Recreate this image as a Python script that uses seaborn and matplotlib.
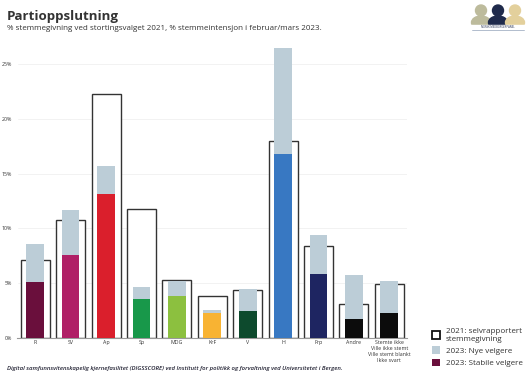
import matplotlib
matplotlib.use("Agg")
import matplotlib.pyplot as plt
import seaborn as sns
import pandas as pd
import numpy as np
from matplotlib.patches import Patch, Circle, Ellipse, Rectangle

categories = ["R", "SV", "Ap", "Sp", "MDG", "KrF", "V", "H", "Frp", "Andre",
              "Stemte ikke\nVille ikke stemt\nVille stemt blankt\nIkke svart"]
vote_2021 = [7.1, 10.8, 22.3, 11.8, 5.3, 3.85, 4.35, 18.0, 8.4, 3.05, 4.9]
total_2023 = [8.6, 11.7, 15.7, 4.6, 5.2, 2.55, 4.45, 26.5, 9.35, 5.7, 5.2]
stable_2023 = [5.1, 7.55, 13.1, 3.55, 3.8, 2.25, 2.4, 16.8, 5.8, 1.7, 2.25]
party_colors = ["#6a0f3c", "#b01f66", "#da1f2c", "#18984a", "#8cc03f", "#f8b333",
                "#0d4a2d", "#3878c2", "#1e2561", "#0c0c0c", "#0c0c0c"]
y_ticks = [0, 5, 10, 15, 20, 25]
new_color = "#bccdd7"

sns.set_theme(style="white")
plt.rcParams["font.family"] = ["Open Sans", "DejaVu Sans"]

df = pd.DataFrame({"party": categories, "v2021": vote_2021,
                   "total": total_2023, "stable": stable_2023})

fig = plt.figure(figsize=(5.31, 3.75), dpi=100)
ax = fig.add_axes([17.5 / 531, 1 - 337.7 / 375, 389.5 / 531, 27 * 10.94 / 375])

for t in y_ticks:
    ax.axhline(t, color="#f0f0f0", lw=0.6, zorder=0)

sns.barplot(data=df, x="party", y="v2021", color="white", edgecolor="#333333",
            linewidth=1.0, width=0.82, saturation=1, ax=ax, zorder=2)
sns.barplot(data=df, x="party", y="total", color=new_color, width=0.5,
            linewidth=0, saturation=1, ax=ax, zorder=3)
sns.barplot(data=df, x="party", y="stable", hue="party", palette=party_colors,
            width=0.5, linewidth=0, saturation=1, legend=False, ax=ax, zorder=4)

ax.set_ylim(0, 27)
ax.set_xlim(-0.5, len(categories) - 0.5)
ax.set_yticks(y_ticks)
ax.set_yticklabels([f"{t}%" for t in y_ticks], fontsize=3.8, color="#333333")
ax.tick_params(axis="x", labelsize=3.8, colors="#333333", length=0, pad=2)
ax.tick_params(axis="y", length=0, pad=4)
ax.set_xlabel("")
ax.set_ylabel("")
for s in ["top", "right", "left"]:
    ax.spines[s].set_visible(False)
ax.spines["bottom"].set_color("#999999")
ax.spines["bottom"].set_linewidth(0.8)

fig.text(7 / 531, 1 - 20 / 375, "Partioppslutning", fontsize=9.6, fontweight="bold",
         color="#333333")
fig.text(7 / 531, 1 - 30 / 375,
         "% stemmegivning ved stortingsvalget 2021, % stemmeintensjon i februar/mars 2023.",
         fontsize=5.75, color="#333333")
fig.text(7 / 531, 1 - 370 / 375,
         "Digital samfunnsvitenskapelig kjernefasilitet (DIGSSCORE) ved Institutt for politikk og forvaltning ved Universitetet i Bergen.",
         fontsize=4.3, style="italic", fontweight="semibold", color="#222233")

handles = [Patch(facecolor="white", edgecolor="#111111", linewidth=1.3),
           Patch(facecolor=new_color, edgecolor="none"),
           Patch(facecolor=party_colors[0], edgecolor="none")]
labels = ["2021: selvrapportert\nstemmegivning", "2023: Nye velgere", "2023: Stabile velgere"]
fig.legend(handles, labels, loc="lower left", bbox_to_anchor=(432 / 531, 8 / 375),
           frameon=False, fontsize=5.8, handlelength=1.05, handleheight=1.05,
           handletextpad=0.7, labelspacing=0.45, borderaxespad=0, borderpad=0,
           labelcolor="#333333")

# logo
lax = fig.add_axes([469 / 531, 1 - 31 / 375, 58 / 531, 29 / 375])
lax.set_xlim(0, 58)
lax.set_ylim(0, 29)
lax.axis("off")
for cx, col in [(12, "#bdbb9c"), (29, "#1f2a4b"), (46, "#e3d09c")]:
    lax.add_patch(Ellipse((cx, 8.5), 19, 13, color=col))
    lax.add_patch(Circle((cx, 20.5), 5.5, color=col))
lax.add_patch(Rectangle((1, 2.5), 56, 4, color="white", zorder=3))
lax.text(29, 4.5, "NORSK MEDBORGERPANEL", fontsize=1.9, ha="center", va="center",
         color="#1f2a4b", zorder=4)
lax.plot([3, 55], [1.5, 1.5], color="#8fa0b8", lw=0.6)

fig.savefig("out.png", dpi=100)
